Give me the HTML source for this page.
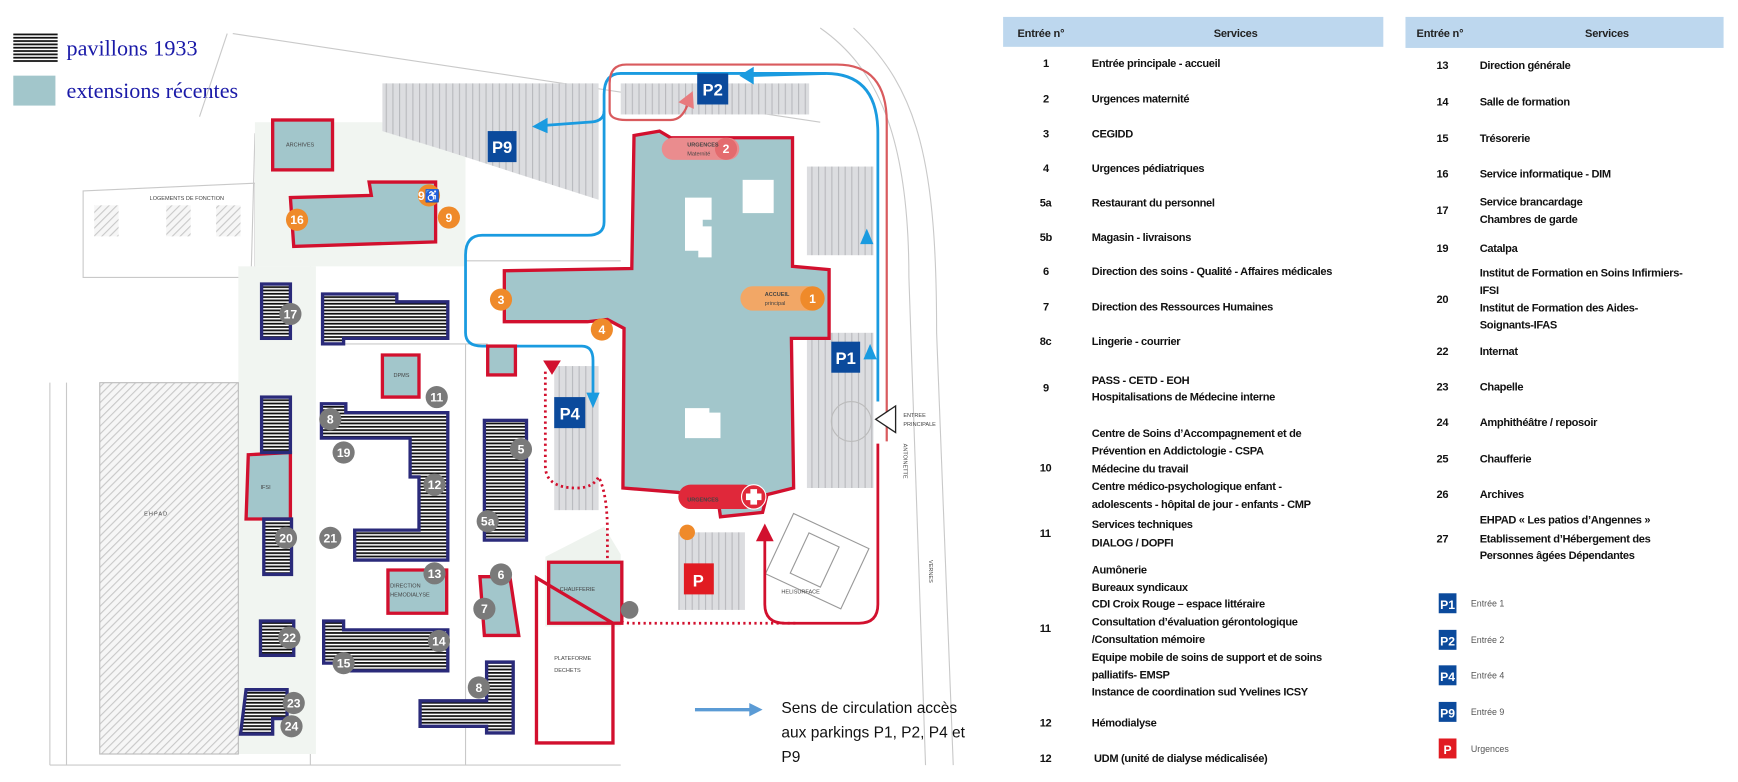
<!DOCTYPE html>
<html><head><meta charset="utf-8"><style>
html,body{margin:0;padding:0;background:#fff;width:1738px;height:782px;overflow:hidden}
svg{display:block}
.t{font-family:"Liberation Sans",sans-serif;font-size:10px;font-weight:bold;fill:#111;letter-spacing:-0.3px}
.h{font-family:"Liberation Sans",sans-serif;font-size:10px;font-weight:bold;fill:#222;letter-spacing:-0.2px}
.s{font-family:"Liberation Sans",sans-serif;font-size:5px;fill:#444}
.n{font-family:"Liberation Sans",sans-serif;font-size:11px;font-weight:bold;fill:#fff;text-anchor:middle}
.pl{font-family:"Liberation Sans",sans-serif;font-size:15px;font-weight:bold;fill:#fff;text-anchor:middle}
</style></head><body>
<svg width="1738" height="782" viewBox="0 0 1568 705" xmlns="http://www.w3.org/2000/svg">
<defs>
<pattern id="hz" width="4" height="3" patternUnits="userSpaceOnUse"><rect width="4" height="3" fill="#fff"/><rect width="4" height="1.6" fill="#111"/></pattern>
<pattern id="dg" width="5" height="5" patternUnits="userSpaceOnUse" patternTransform="rotate(45)"><rect width="5" height="5" fill="#f6f6f6"/><rect width="1" height="5" fill="#c8c8c8"/></pattern>
<pattern id="pk" width="6" height="14" patternUnits="userSpaceOnUse"><rect width="6" height="14" fill="#dcdde0"/><rect width="1" height="14" fill="#b8b9bd"/></pattern>
</defs>
<!-- legend -->
<rect x="12" y="30" width="40" height="26" fill="url(#hz)"/>
<text x="60" y="50" font-family="Liberation Serif,serif" font-size="20" fill="#1a1aa8">pavillons 1933</text>
<rect x="12" y="68" width="38" height="27" fill="#a2c6cb"/>
<text x="60" y="88" font-family="Liberation Serif,serif" font-size="20" fill="#1a1aa8">extensions récentes</text>
<!-- map background -->
<g fill="none" stroke="#c9c9c9" stroke-width="1">
<path d="M210,30 L740,110 M180,105 L205,30 M75,172 L230,165 L230,250 L75,250 Z M230,120 L215,680 M45,345 L45,690 M60,345 L60,690 M45,690 L560,690"/>
<path d="M740,25 C790,60 820,120 820,250 L835,690 M770,25 C830,80 845,150 845,300 L860,690"/>
<path d="M290,235 L560,235 M290,310 L440,310 M420,310 L420,690 M280,240 L280,690"/>
</g>
<rect x="230" y="110" width="190" height="130" fill="#f1f5f1"/>
<rect x="215" y="240" width="70" height="440" fill="#f1f5f1"/>
<rect x="90" y="345" width="125" height="335" fill="url(#dg)" stroke="#bbb"/>
<text x="130" y="465" class="s" font-size="7" letter-spacing="1">EHPAD</text>
<rect x="85" y="185" width="22" height="28" fill="url(#dg)"/><rect x="150" y="185" width="22" height="28" fill="url(#dg)"/><rect x="195" y="185" width="22" height="28" fill="url(#dg)"/>
<text x="135" y="180" class="s">LOGEMENTS DE FONCTION</text>
<polygon points="345,75 540,75 540,180 400,135 345,118" fill="url(#pk)"/>
<rect x="560" y="75" width="170" height="28" fill="url(#pk)"/>
<rect x="728" y="150" width="60" height="80" fill="url(#pk)"/>
<rect x="728" y="300" width="60" height="140" fill="url(#pk)"/>
<circle cx="768" cy="380" r="18" fill="none" stroke="#bbb"/>
<rect x="500" y="330" width="40" height="130" fill="url(#pk)"/>
<rect x="612" y="480" width="60" height="70" fill="url(#pk)"/>
<path d="M492,502 L545,475 L560,500 L560,565 L492,565 Z" fill="#eef3ee"/>
<g transform="rotate(25 735 505)" fill="none" stroke="#999"><rect x="700" y="475" width="75" height="60"/><rect x="720" y="485" width="30" height="40"/></g>
<text x="705" y="535" class="s" font-size="5.5">HELISURFACE</text>
<text x="838" y="505" class="s" transform="rotate(90 838 505)">VERNES</text>
<text x="815" y="400" class="s" transform="rotate(90 815 400)">ANTOINETTE</text>
<!-- main hospital -->
<polygon points="572,122 595,118 605,124 715,124 715,240 748,243 748,305 714,305 716,440 692,446 688,462 650,466 648,452 612,444 562,440 563,296 548,288 530,290 455,290 455,244 570,242" fill="#a2c6cb" stroke="#d2102e" stroke-width="3"/>
<rect x="670" y="162" width="28" height="30" fill="#fff"/>
<path d="M618,178 L642,178 L642,198 L634,198 L634,204 L642,204 L642,232 L630,232 L630,226 L618,226 Z" fill="#fff"/>
<path d="M618,368 L640,368 L640,372 L650,372 L650,395 L618,395 Z" fill="#fff"/>
<!-- routes -->
<g fill="none" stroke="#1a9be0" stroke-width="2.5">
<path d="M792,362 L792,120 Q792,66 745,66 L560,66 Q545,66 545,85 L545,200 Q545,212 530,212 L435,212 Q420,212 420,230 L420,300 Q420,312 435,312 L525,312 Q535,312 535,325 L535,360"/>
<path d="M545,100 Q545,110 530,110 L490,113"/>
<path d="M745,66 L675,68"/>
</g>
<g fill="#1a9be0"><polygon points="480,114 494,106 494,120"/><polygon points="667,68 680,60 680,76"/><polygon points="535,368 529,354 541,354"/><polygon points="782,206 776,220 788,220"/><polygon points="785,310 779,324 791,324"/></g>
<g fill="none" stroke="#d95b5e" stroke-width="2">
<path d="M800,398 L800,110 Q800,58 755,58 L565,58 Q550,58 550,75 L550,100 Q550,108 565,108 L605,108 Q615,108 620,95"/>
</g>
<polygon points="625,82 612,92 626,98" fill="#e87b7e"/>
<path d="M492,335 L492,420 Q492,440 520,440 Q535,440 540,430 Q548,445 548,480 L548,540 Q548,562 570,562 L720,562" fill="none" stroke="#d2102e" stroke-width="2.5" stroke-dasharray="2,3"/>
<polygon points="490,325 506,325 498,338" fill="#d2102e"/>
<path d="M690,485 L690,545 Q690,562 708,562 L775,562 Q792,562 792,545 L792,400" fill="none" stroke="#d2102e" stroke-width="2.5"/>
<polygon points="690,472 682,488 698,488" fill="#d2102e"/>
<polygon points="790,378 808,366 808,390" fill="#fff" stroke="#222" stroke-width="1.2"/>
<text x="815" y="376" class="s" font-size="6">ENTREE</text><text x="815" y="384" class="s" font-size="6">PRINCIPALE</text>
<!-- teal/red extension buildings -->
<g fill="#a2c6cb" stroke="#d2102e" stroke-width="3">
<rect x="246" y="108" width="54" height="45"/>
<polygon points="262,178 335,176 333,164 393,164 393,218 265,222"/>
<polygon points="345,320 378,320 378,358 345,358"/>
<polygon points="224,410 262,408 262,468 222,468"/>
<polygon points="350,514 403,514 403,553 350,553"/>
<polygon points="433,520 460,520 468,573 437,573"/>
<rect x="440" y="312" width="25" height="26"/>
<rect x="495" y="507" width="66" height="55"/>
</g>
<polygon points="484,521 484,670 553,670 553,562" fill="none" stroke="#d2102e" stroke-width="3"/>
<text x="258" y="132" class="s">ARCHIVES</text>
<text x="355" y="340" class="s">DPMS</text>
<text x="235" y="441" class="s">IFSI</text>
<text x="352" y="530" class="s">DIRECTION</text><text x="352" y="538" class="s">HEMODIALYSE</text>
<text x="505" y="533" class="s">CHAUFFERIE</text>
<text x="500" y="595" class="s">PLATEFORME</text><text x="500" y="606" class="s">DECHETS</text>
<!-- pavilions 1933 -->
<g fill="url(#hz)" stroke="#2a2a7a" stroke-width="3">
<rect x="236" y="256" width="26" height="49"/>
<polygon points="291,265 358,265 358,272 404,272 404,305 310,305 310,310 291,310"/>
<rect x="236" y="358" width="26" height="50"/>
<rect x="238" y="468" width="25" height="50"/>
<path d="M290,364 L312,364 L312,372 L404,372 L404,505 L320,505 L320,478 L378,478 L378,430 L370,430 L370,395 L290,395 Z"/>
<rect x="437" y="379" width="38" height="108"/>
<path d="M292,560 L310,560 L310,568 L404,568 L404,605 L308,605 L308,598 L292,598 Z"/>
<rect x="235" y="560" width="30" height="31"/>
<path d="M222,622 L259,622 L259,648 L246,648 L246,662 L217,662 Z"/>
<path d="M439,597 L463,597 L463,661 L439,661 L439,655 L379,655 L379,632 L439,632 Z"/>
</g>
<!-- gray number circles -->
<g fill="#7a7a7a">
<circle cx="262" cy="283" r="10"/><circle cx="394" cy="358" r="10"/><circle cx="298" cy="378" r="10"/><circle cx="310" cy="408" r="10"/><circle cx="392" cy="437" r="10"/><circle cx="258" cy="485" r="10"/><circle cx="298" cy="485" r="10"/><circle cx="392" cy="517" r="10"/><circle cx="452" cy="518" r="10"/><circle cx="437" cy="549" r="10"/><circle cx="261" cy="575" r="10"/><circle cx="396" cy="578" r="10"/><circle cx="310" cy="598" r="10"/><circle cx="265" cy="634" r="10"/><circle cx="263" cy="655" r="10"/><circle cx="432" cy="620" r="10"/><circle cx="470" cy="405" r="10"/><circle cx="440" cy="470" r="10"/><circle cx="568" cy="550" r="8"/>
</g>
<g class="n">
<text x="262" y="287" class="n">17</text><text x="394" y="362" class="n">11</text><text x="298" y="382" class="n">8</text><text x="310" y="412" class="n">19</text><text x="392" y="441" class="n">12</text><text x="258" y="489" class="n">20</text><text x="298" y="489" class="n">21</text><text x="392" y="521" class="n">13</text><text x="452" y="522" class="n">6</text><text x="437" y="553" class="n">7</text><text x="261" y="579" class="n">22</text><text x="396" y="582" class="n">14</text><text x="310" y="602" class="n">15</text><text x="265" y="638" class="n">23</text><text x="263" y="659" class="n">24</text><text x="432" y="624" class="n">8</text><text x="470" y="409" class="n">5</text><text x="440" y="474" class="n">5a</text>
</g>
<!-- orange markers -->
<g fill="#ef8a2a">
<circle cx="268" cy="198" r="10"/><circle cx="387" cy="176" r="10"/><circle cx="405" cy="196" r="10"/>
<circle cx="452" cy="270" r="10"/><circle cx="543" cy="297" r="10"/>
<rect x="668" y="258" width="72" height="22" rx="11" fill="#f2a766"/><circle cx="733" cy="269" r="11"/>
<circle cx="620" cy="480" r="7"/>
</g>
<rect x="597" y="124" width="70" height="20" rx="10" fill="#ea8c8e"/><circle cx="655" cy="134" r="10" fill="#e46b6e"/>
<text x="620" y="132" class="s" font-size="6" fill="#fff" font-weight="bold">URGENCES</text><text x="620" y="140" class="s" font-size="5.5" fill="#fff">Maternité</text>
<text x="655" y="138" class="n">2</text>
<text x="690" y="267" class="s" font-size="6" fill="#fff" font-weight="bold">ACCUEIL</text><text x="690" y="275" class="s" font-size="6" fill="#fff">principal</text>
<g class="n"><text x="268" y="202" class="n">16</text><text x="387" y="180" class="n" font-size="9">9♿</text><text x="405" y="200" class="n">9</text><text x="452" y="274" class="n">3</text><text x="543" y="301" class="n">4</text><text x="733" y="273" class="n">1</text></g>
<rect x="612" y="437" width="70" height="22" rx="11" fill="#e0283a"/>
<text x="620" y="452" class="s" font-size="7" fill="#fff" font-weight="bold">URGENCES</text>
<circle cx="680" cy="448" r="11" fill="#e0283a" stroke="#fff" stroke-width="1"/>
<path d="M677,441 h6 v4 h4 v6 h-4 v4 h-6 v-4 h-4 v-6 h4 z" fill="#fff"/>
<!-- P icons -->
<g fill="#0b4a9c"><rect x="440" y="118" width="26" height="28"/><rect x="629" y="66" width="28" height="28"/><rect x="750" y="308" width="26" height="28"/><rect x="500" y="358" width="28" height="28"/></g>
<rect x="617" y="508" width="27" height="28" fill="#e11b22"/>
<text x="453" y="138" class="pl">P9</text><text x="643" y="86" class="pl">P2</text><text x="763" y="328" class="pl">P1</text><text x="514" y="378" class="pl">P4</text><text x="630" y="529" class="pl" font-size="17">P</text>
<!-- legend arrow -->
<line x1="627" y1="640" x2="678" y2="640" stroke="#5b9bd5" stroke-width="3"/>
<polygon points="688,640 676,634 676,646" fill="#5b9bd5"/>
<g font-family="Liberation Sans,sans-serif" font-size="14" fill="#111">
<text x="705" y="643">Sens de circulation accès</text><text x="705" y="665">aux parkings P1, P2, P4 et</text><text x="705" y="687">P9</text></g>
<!-- tables -->
<rect x="905" y="15" width="343" height="27" fill="#bdd7ee"/>
<rect x="1268" y="15" width="287" height="28" fill="#bdd7ee"/>
<text x="918" y="33" class="h">Entrée n°</text><text x="1095" y="33" class="h">Services</text>
<text x="1278" y="33" class="h">Entrée n°</text><text x="1430" y="33" class="h">Services</text>
<g class="t">
<text x="941" y="60">1</text><text x="985" y="60">Entrée principale - accueil</text>
<text x="941" y="92">2</text><text x="985" y="92">Urgences maternité</text>
<text x="941" y="124">3</text><text x="985" y="124">CEGIDD</text>
<text x="941" y="155">4</text><text x="985" y="155">Urgences pédiatriques</text>
<text x="938" y="186">5a</text><text x="985" y="186">Restaurant du personnel</text>
<text x="938" y="217">5b</text><text x="985" y="217">Magasin - livraisons</text>
<text x="941" y="248">6</text><text x="985" y="248">Direction des soins - Qualité - Affaires médicales</text>
<text x="941" y="280">7</text><text x="985" y="280">Direction des Ressources Humaines</text>
<text x="938" y="311">8c</text><text x="985" y="311">Lingerie - courrier</text>
<text x="941" y="353">9</text><text x="985" y="346">PASS - CETD - EOH</text><text x="985" y="361">Hospitalisations de Médecine interne</text>
<text x="938" y="425">10</text><text x="985" y="394">Centre de Soins d’Accompagnement et de</text><text x="985" y="410">Prévention en Addictologie - CSPA</text><text x="985" y="426">Médecine du travail</text><text x="985" y="442">Centre médico-psychologique enfant -</text><text x="985" y="458">adolescents - hôpital de jour - enfants - CMP</text>
<text x="938" y="484">11</text><text x="985" y="476">Services techniques</text><text x="985" y="493">DIALOG / DOPFI</text>
<text x="938" y="570">11</text><text x="985" y="517">Aumônerie</text><text x="985" y="533">Bureaux syndicaux</text><text x="985" y="548">CDI Croix Rouge – espace littéraire</text><text x="985" y="564">Consultation d’évaluation gérontologique</text><text x="985" y="580">/Consultation mémoire</text><text x="985" y="596">Equipe mobile de soins de support et de soins</text><text x="985" y="612">palliatifs- EMSP</text><text x="985" y="627">Instance de coordination sud Yvelines ICSY</text>
<text x="938" y="655">12</text><text x="985" y="655">Hémodialyse</text>
<text x="938" y="687">12</text><text x="987" y="687">UDM (unité de dialyse médicalisée)</text>
<text x="1296" y="62">13</text><text x="1335" y="62">Direction générale</text>
<text x="1296" y="95">14</text><text x="1335" y="95">Salle de formation</text>
<text x="1296" y="128">15</text><text x="1335" y="128">Trésorerie</text>
<text x="1296" y="160">16</text><text x="1335" y="160">Service informatique - DIM</text>
<text x="1296" y="193">17</text><text x="1335" y="185">Service brancardage</text><text x="1335" y="201">Chambres de garde</text>
<text x="1296" y="227">19</text><text x="1335" y="227">Catalpa</text>
<text x="1296" y="273">20</text><text x="1335" y="249">Institut de Formation en Soins Infirmiers-</text><text x="1335" y="265">IFSI</text><text x="1335" y="281">Institut de Formation des Aides-</text><text x="1335" y="296">Soignants-IFAS</text>
<text x="1296" y="320">22</text><text x="1335" y="320">Internat</text>
<text x="1296" y="352">23</text><text x="1335" y="352">Chapelle</text>
<text x="1296" y="384">24</text><text x="1335" y="384">Amphithéâtre / reposoir</text>
<text x="1296" y="417">25</text><text x="1335" y="417">Chaufferie</text>
<text x="1296" y="449">26</text><text x="1335" y="449">Archives</text>
<text x="1296" y="489">27</text><text x="1335" y="472">EHPAD « Les patios d’Angennes »</text><text x="1335" y="489">Etablissement d’Hébergement des</text><text x="1335" y="504">Personnes âgées Dépendantes</text>
</g>
<g fill="#0b4a9c"><rect x="1298" y="535" width="16" height="18"/><rect x="1298" y="568" width="16" height="18"/><rect x="1298" y="600" width="16" height="18"/><rect x="1298" y="633" width="16" height="18"/></g>
<rect x="1298" y="666" width="16" height="18" fill="#e11b22"/>
<g font-family="Liberation Sans,sans-serif" font-size="11" font-weight="bold" fill="#fff" text-anchor="middle">
<text x="1306" y="549">P1</text><text x="1306" y="582">P2</text><text x="1306" y="614">P4</text><text x="1306" y="647">P9</text><text x="1306" y="680">P</text></g>
<g font-family="Liberation Sans,sans-serif" font-size="8" fill="#555">
<text x="1327" y="547">Entrée 1</text><text x="1327" y="580">Entrée 2</text><text x="1327" y="612">Entrée 4</text><text x="1327" y="645">Entrée 9</text><text x="1327" y="678">Urgences</text></g>
</svg>
</body></html>
